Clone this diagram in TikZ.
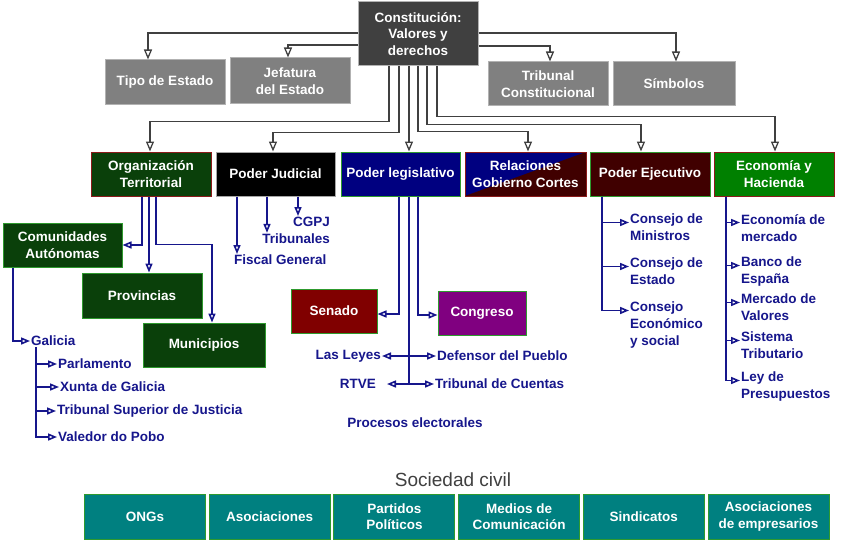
\documentclass[tikz,border=0pt]{standalone}
\usepackage{fontspec}
\setmainfont{Liberation Sans}
\usepackage{tikz}
\usetikzlibrary{arrows.meta, calc}

\definecolor{conGray}{HTML}{404040}
\definecolor{midGray}{HTML}{808080}
\definecolor{darkGreen}{HTML}{0A400A}
\definecolor{navyBlue}{HTML}{000080}
\definecolor{darkMaroon}{HTML}{400000}
\definecolor{ecoGreen}{HTML}{008000}
\definecolor{senRed}{HTML}{800000}
\definecolor{congPurple}{HTML}{800080}
\definecolor{socTeal}{HTML}{008080}
\definecolor{lblBlue}{HTML}{16168C}
\definecolor{edgeRed}{HTML}{8B1A1A}
\definecolor{edgeGreen}{HTML}{2E9A2E}

\begin{document}
\begin{tikzpicture}[x=1pt, y=-1pt,
  box/.style={draw=edgeGreen, line width=1pt, minimum width=120pt, minimum height=44pt,
    inner sep=2pt, align=center, text=white, font=\fontsize{13.5}{16.5}\selectfont\bfseries},
  greybox/.style={box, fill=midGray, draw=gray!60},
  lbl/.style={text=lblBlue, align=left, inner sep=1pt, font=\fontsize{13.5}{17}\selectfont\bfseries},
  garr/.style={draw=conGray, line width=1.3pt, -{Triangle[open, length=10pt, width=8pt]}},
  barr/.style={draw=lblBlue, line width=1.6pt, -{Triangle[open, length=9pt, width=7pt]}},
  bdarr/.style={barr, {Triangle[open, length=9pt, width=7pt]}-{Triangle[open, length=9pt, width=7pt]}}]

\fill[white] (0,0) rectangle (855,543);
\useasboundingbox (0,0) rectangle (855,543);

% top
\node[box, fill=conGray, draw=gray!60, minimum height=64pt] (con) at (418,34) {Constitución:\\Valores y\\derechos};
\node[greybox, minimum height=45pt] (tipo) at (165,82.5) {Tipo de Estado};
\node[greybox, minimum height=46pt] (jefe) at (290,81) {Jefatura\\del Estado};
\node[greybox] (trib) at (548,84) {Tribunal\\Constitucional};
\node[greybox, minimum width=122pt] (simb) at (674,84) {Símbolos};

\draw[garr] ([yshift=1pt]con.west) -| ([xshift=-17pt]tipo.north);
\draw[garr] ([yshift=-11pt]con.west) -| ([xshift=-2pt]jefe.north);
\draw[garr] ([yshift=1pt]con.east) -| ([xshift=2pt]simb.north);
\draw[garr] ([yshift=-12pt]con.east) -| ([xshift=2pt]trib.north);

% second row
\node[box, fill=darkGreen, draw=edgeRed] (org) at (151,174) {Organización\\Territorial};
\node[box, fill=black, draw=gray!70, minimum width=119pt] (jud) at (275.5,174) {Poder Judicial};
\node[box, fill=navyBlue, minimum width=119pt] (leg) at (400.5,174) {Poder legislativo};
\node[box, fill=navyBlue, draw=edgeRed, minimum width=121pt,
  path picture={\fill[darkMaroon] (path picture bounding box.south west)
    -- (path picture bounding box.south east) -- (path picture bounding box.north east) -- cycle;}]
  (rel) at (525.5,174) {Relaciones\\Gobierno Cortes};
\node[box, fill=darkMaroon] (eje) at (650,174) {Poder Ejecutivo};
\node[box, fill=ecoGreen, draw=edgeRed] (eco) at (774,174) {Economía y\\Hacienda};

\draw[garr] ([xshift=-29pt]con.south) -- ++(0,55) -| ([xshift=-1pt]org.north);
\draw[garr] ([xshift=-19pt]con.south) -- ++(0,66) -| ([xshift=-2.5pt]jud.north);
\draw[garr] ([xshift=-9pt]con.south) -- ([xshift=-9pt]con.south |- leg.north);
\draw[garr] (con.south) -- ++(0,65) -| ([xshift=2.5pt]rel.north);
\draw[garr] ([xshift=9pt]con.south) -- ++(0,58) -| ([xshift=-9pt]eje.north);
\draw[garr] ([xshift=19pt]con.south) -- ++(0,50) -| ([xshift=1pt]eco.north);

% territorial
\node[box, fill=darkGreen, minimum width=119pt] (com) at (62.5,245) {Comunidades\\Autónomas};
\node[box, fill=darkGreen, minimum height=45pt] (prov) at (142,295.5) {Provincias};
\node[box, fill=darkGreen, minimum width=122pt] (mun) at (204,345) {Municipios};

\draw[barr] ([xshift=-9pt]org.south) |- (com.east);
\draw[barr] ([xshift=-2pt]org.south) -- ([xshift=-2pt]org.south |- prov.north);
\draw[barr] ([xshift=5pt]org.south) -- ++(0,48) -| ([xshift=8pt]mun.north);

\node[lbl, anchor=west] (gal) at (30,341) {Galicia};
\node[lbl, anchor=west] (parl) at (57,364) {Parlamento};
\node[lbl, anchor=west] (xunta) at (59,387) {Xunta de Galicia};
\node[lbl, anchor=west] (tsj) at (56,411) {Tribunal Superior de Justicia};
\node[lbl, anchor=west] (vale) at (57,437) {Valedor do Pobo};

\draw[barr] ([xshift=-49.5pt]com.south) |- (gal.west);
\foreach \n in {parl, xunta, tsj, vale}
  \draw[barr] ([xshift=6pt]gal.south west) |- (\n.west);

% judicial
\node[lbl, anchor=north west] (fisc) at (233,254) {Fiscal General};
\node[lbl, anchor=east] (tribs) at (331,239) {Tribunales};
\node[lbl, anchor=east] (cgpj) at (331,222) {CGPJ};

\draw[barr] ([xshift=-38.5pt]jud.south) -- ([xshift=-38.5pt]jud.south |- fisc.north);
\draw[barr] ([xshift=-8.5pt]jud.south) -- ([xshift=-8.5pt]jud.south |- tribs.north);
\draw[barr] ([xshift=22.5pt]jud.south) -- ([xshift=22.5pt]jud.south |- cgpj.north);

% legislativo
\node[box, fill=senRed, minimum width=86pt] (sen) at (334,311) {Senado};
\node[box, fill=congPurple, minimum width=88pt] (cong) at (482,313) {Congreso};
\node[lbl, anchor=east] (leyes) at (382,356) {Las Leyes};
\node[lbl, anchor=west] (defe) at (436,356) {Defensor del Pueblo};
\node[lbl, anchor=east] (rtve) at (377,384) {RTVE};
\node[lbl, anchor=west] (tcu) at (434,384) {Tribunal de Cuentas};
\node[lbl] (proc) at (415,423) {Procesos electorales};

\draw[barr] ([xshift=-1.5pt]leg.south) |- ([yshift=-3pt]sen.east);
\draw[barr] ([xshift=17.5pt]leg.south) |- ([yshift=-2pt]cong.west);
\draw[draw=lblBlue, line width=1.6pt] ([xshift=8.5pt]leg.south) -- ([xshift=8.5pt]leg.south |- rtve.east);
\draw[bdarr] (leyes.east) -- (defe.west);
\draw[bdarr] ([xshift=10pt]rtve.east) -- (tcu.west);

% ejecutivo
\node[lbl, anchor=north west] (cmin) at (629,213) {Consejo de\\Ministros};
\node[lbl, anchor=north west] (cest) at (629,257) {Consejo de\\Estado};
\node[lbl, anchor=north west] (cecon) at (629,301) {Consejo\\Económico\\y social};

\foreach \n in {cmin, cest, cecon}
  \draw[barr] ([xshift=-48pt]eje.south) |- ([yshift=-9.5pt]\n.north west);

% economia
\node[lbl, anchor=north west] (emerc) at (740,213) {Economía de\\mercado};
\node[lbl, anchor=north west] (bde) at (740,256) {Banco de\\España};
\node[lbl, anchor=north west] (mval) at (740,293) {Mercado de\\Valores};
\node[lbl, anchor=north west] (stri) at (740,331) {Sistema\\Tributario};
\node[lbl, anchor=north west] (lpre) at (740,371) {Ley de\\Presupuestos};

\foreach \n in {emerc, bde, mval, stri, lpre}
  \draw[barr] ([xshift=-48pt]eco.south) |- ([yshift=-9.5pt]\n.north west);

% sociedad civil
\node[text=conGray, font=\fontsize{19}{22}\selectfont] (civil) at (453,480) {Sociedad civil};
\foreach \t [count=\i] in {ONGs, Asociaciones, {Partidos\\Políticos}, {Medios de\\Comunicación},
    Sindicatos, {Asociaciones\\de empresarios}}
  \node[box, fill=socTeal, minimum width=121pt, minimum height=45pt] (soc\i) at ({145+124.7*(\i-1)},516.5) {\t};
\end{tikzpicture}
\end{document}
